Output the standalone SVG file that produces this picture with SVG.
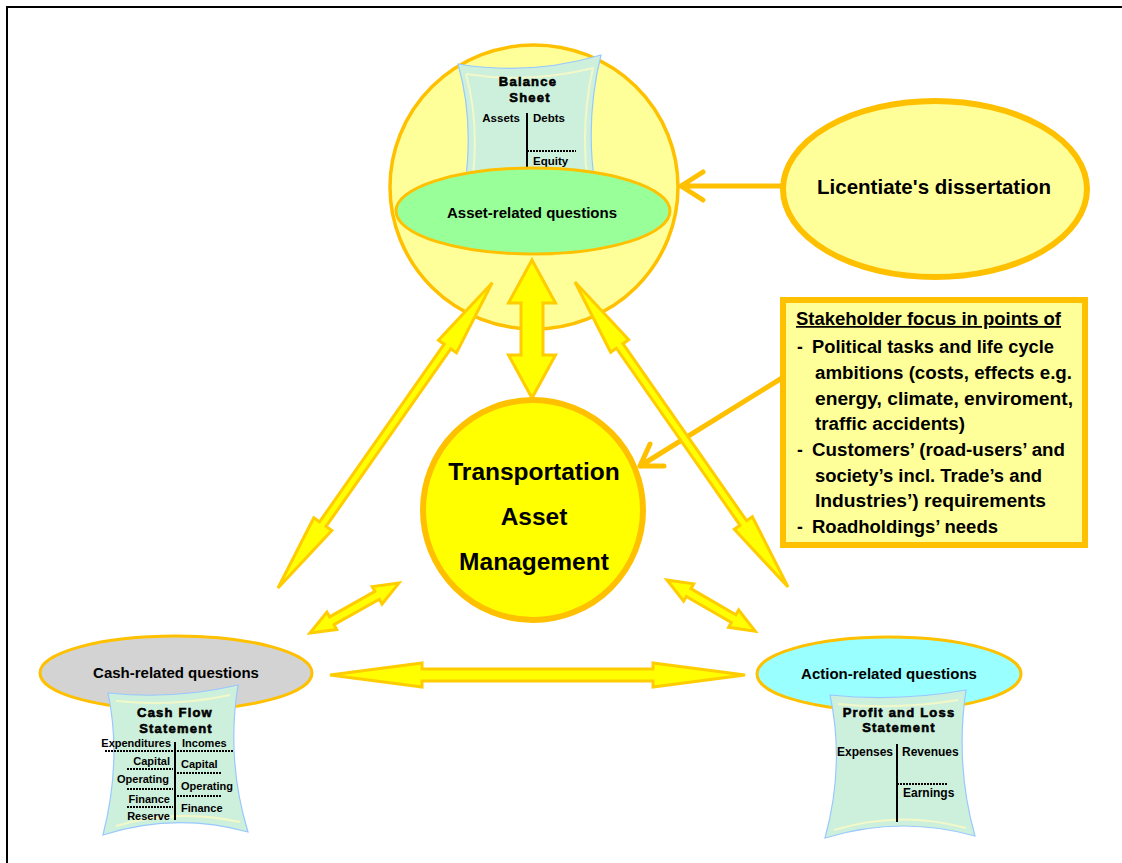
<svg xmlns="http://www.w3.org/2000/svg" width="1122" height="863" viewBox="0 0 1122 863">
<style>
.arw{fill:#FFFF00;stroke:#FFCC00;stroke-width:3;stroke-linejoin:miter}
.con{fill:none;stroke:#FFC000;stroke-width:5;stroke-linecap:round;stroke-linejoin:round}
.paper{fill:#CDF0DC;stroke:#99C8FF;stroke-width:1.2}
.paperin{fill:none;stroke:#F2F8C8;stroke-width:2}
.t{font-family:"Liberation Sans",Arial,sans-serif;font-weight:bold;fill:#000}
.ttl{font-size:13px;letter-spacing:1.2px;text-anchor:middle;stroke:#000;stroke-width:0.6}
.sm{font-size:11px}
.sm12{font-size:12px}
.dot{stroke:#000;stroke-width:2;stroke-dasharray:2,1}
.vl{stroke:#000;stroke-width:2}
.stk{font-size:17.5px}
</style>
<path d="M7,863 V7 H1122" fill="none" stroke="#000" stroke-width="2"/>

<g id="node-balance">
<ellipse cx="534" cy="187" rx="144" ry="142" fill="#FFFF99" stroke="#FFC000" stroke-width="3.5"/>
<path class="paper" d="M458,64 Q530,76 601,55 Q585,120 595,185 L465,185 Q474,120 458,64 Z"/>
<path class="paperin" d="M466,74 Q530,84 593,68 Q580,125 588,185 M472,185 Q480,125 466,74"/>
<text class="t ttl" x="528" y="86">Balance</text>
<text class="t ttl" x="530" y="102">Sheet</text>
<text class="t" font-size="11.5" x="520" y="122" text-anchor="end">Assets</text>
<text class="t" font-size="11.5" x="533" y="122">Debts</text>
<line class="vl" x1="527" y1="113" x2="527" y2="175"/>
<line class="dot" x1="527" y1="151" x2="576" y2="151"/>
<text class="t" font-size="11.5" x="533" y="165">Equity</text>
<ellipse cx="533" cy="211" rx="137" ry="43" fill="#99FF99" stroke="#FFC000" stroke-width="3"/>
<text class="t" font-size="15" x="532" y="218" text-anchor="middle">Asset-related questions</text>
</g>

<g id="node-licentiate">
<ellipse cx="935" cy="189" rx="152" ry="88" fill="#FFFF99" stroke="#FFC000" stroke-width="6"/>
<text class="t" font-size="20.5" x="934" y="194" text-anchor="middle">Licentiate's dissertation</text>
</g>

<g id="node-stakeholder">
<rect x="783" y="300" width="302" height="245" fill="#FFFF99" stroke="#FFC000" stroke-width="6"/>
<text class="t stk" x="796" y="325" textLength="265" lengthAdjust="spacingAndGlyphs" text-decoration="underline">Stakeholder focus in points of</text>
<text class="t stk" x="797" y="353">-</text>
<text class="t stk" x="812" y="353" textLength="242" lengthAdjust="spacingAndGlyphs">Political tasks and life cycle</text>
<text class="t stk" x="815" y="379" textLength="257" lengthAdjust="spacingAndGlyphs">ambitions (costs, effects e.g.</text>
<text class="t stk" x="815" y="405" textLength="258" lengthAdjust="spacingAndGlyphs">energy, climate, enviroment,</text>
<text class="t stk" x="815" y="430" textLength="150" lengthAdjust="spacingAndGlyphs">traffic accidents)</text>
<text class="t stk" x="797" y="456">-</text>
<text class="t stk" x="812" y="456" textLength="253" lengthAdjust="spacingAndGlyphs">Customers’ (road-users’ and</text>
<text class="t stk" x="815" y="482" textLength="227" lengthAdjust="spacingAndGlyphs">society’s incl. Trade’s and</text>
<text class="t stk" x="815" y="507" textLength="231" lengthAdjust="spacingAndGlyphs">Industries’) requirements</text>
<text class="t stk" x="797" y="533">-</text>
<text class="t stk" x="812" y="533" textLength="186" lengthAdjust="spacingAndGlyphs">Roadholdings’ needs</text>
</g>

<g id="connectors">
<path class="con" d="M783,186 H681 M703,172 L681,186 L703,200"/>
<path class="con" d="M782,378 L640,466 M650,444 L640,466 L664,466"/>
<polygon class="arw" transform="translate(278,588) rotate(-54.94)" points="0,0 78,-11 78,-4 295,-4 295,-11 373,0 295,11 295,4 78,4 78,11"/>
<polygon class="arw" transform="translate(575,282) rotate(55.07)" points="0,0 78,-11 78,-4 294,-4 294,-11 372,0 294,11 294,4 78,4 78,11"/>
<polygon class="arw" transform="translate(310,633) rotate(-29.3)" points="0,0 25,-10 25,-4.5 77,-4.5 77,-10 102,0 77,10 77,4.5 25,4.5 25,10"/>
<polygon class="arw" transform="translate(667,580) rotate(30.1)" points="0,0 25,-10 25,-4.5 77,-4.5 77,-10 102,0 77,10 77,4.5 25,4.5 25,10"/>
<polygon class="arw" transform="translate(330,675)" points="0,0 92,-12 92,-6 323,-6 323,-12 415,0 323,12 323,6 92,6 92,12"/>
<polygon class="arw" transform="translate(532,260) rotate(90)" points="0,0 43,-23.5 43,-11 95,-11 95,-23.5 138,0 95,23.5 95,11 43,11 43,23.5"/>
</g>

<g id="node-tam">
<circle cx="533" cy="510" r="110" fill="#FFFF00" stroke="#FFC000" stroke-width="6"/>
<text class="t" font-size="24.5" x="534" y="480" text-anchor="middle">Transportation</text>
<text class="t" font-size="24.5" x="534" y="525" text-anchor="middle">Asset</text>
<text class="t" font-size="24.5" x="534" y="570" text-anchor="middle">Management</text>
</g>

<g id="node-cash">
<ellipse cx="176" cy="673" rx="136" ry="37" fill="#D3D3D3" stroke="#FFC000" stroke-width="3"/>
<text class="t" font-size="15" x="176" y="678" text-anchor="middle">Cash-related questions</text>
<path class="paper" d="M108,693 Q175,700 238,685 Q226,760 248,832 Q175,812 103,835 Q122,760 108,693 Z"/>
<path class="paperin" d="M116,701 Q175,707 230,695 M116,826 Q175,808 240,822"/>
<text class="t ttl" x="175" y="717">Cash Flow</text>
<text class="t ttl" x="176" y="733">Statement</text>
<text class="t sm" x="171" y="747" text-anchor="end">Expenditures</text>
<text class="t sm" x="182" y="747">Incomes</text>
<line class="vl" x1="175" y1="742" x2="175" y2="820"/>
<line class="dot" x1="105" y1="751" x2="233" y2="751"/>
<text class="t sm" x="170" y="765" text-anchor="end">Capital</text>
<text class="t sm" x="181" y="768">Capital</text>
<line class="dot" x1="127" y1="769" x2="173" y2="769"/>
<line class="dot" x1="177" y1="773" x2="222" y2="773"/>
<text class="t sm" x="169" y="783" text-anchor="end">Operating</text>
<text class="t sm" x="181" y="790">Operating</text>
<line class="dot" x1="127" y1="789" x2="173" y2="789"/>
<line class="dot" x1="177" y1="796" x2="222" y2="796"/>
<text class="t sm" x="170" y="803" text-anchor="end">Finance</text>
<text class="t sm" x="181" y="812">Finance</text>
<line class="dot" x1="127" y1="807" x2="173" y2="807"/>
<text class="t sm" x="170" y="820" text-anchor="end">Reserve</text>
</g>

<g id="node-action">
<ellipse cx="889" cy="674" rx="132" ry="37" fill="#99FFFF" stroke="#FFC000" stroke-width="3"/>
<text class="t" font-size="15" x="889" y="679" text-anchor="middle">Action-related questions</text>
<path class="paper" d="M830,695 Q898,702 966,690 Q955,765 975,836 Q900,815 825,838 Q845,765 830,695 Z"/>
<path class="paperin" d="M838,704 Q898,710 958,700 M834,830 Q900,810 966,828"/>
<text class="t ttl" x="899" y="717">Profit and Loss</text>
<text class="t ttl" x="899" y="732">Statement</text>
<text class="t sm12" x="893" y="756" text-anchor="end">Expenses</text>
<text class="t sm12" x="902" y="756">Revenues</text>
<line class="vl" x1="897" y1="744" x2="897" y2="822"/>
<line class="dot" x1="897" y1="784" x2="947" y2="784"/>
<text class="t sm12" x="903" y="797">Earnings</text>
</g>
</svg>
